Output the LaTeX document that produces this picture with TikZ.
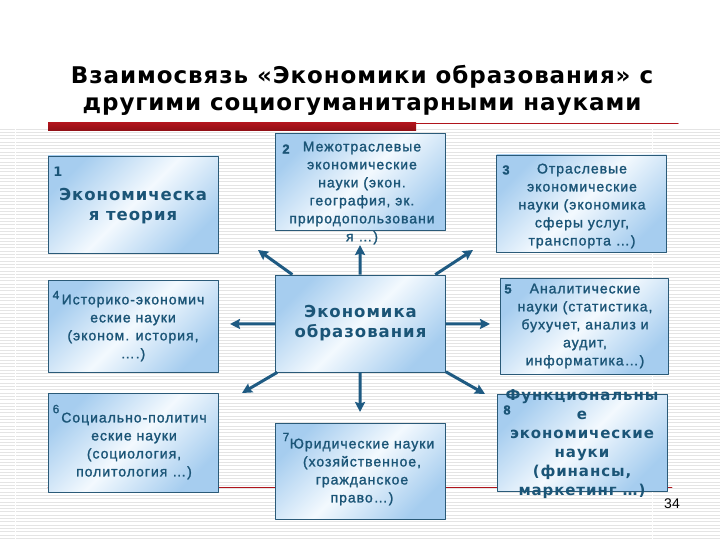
\documentclass[tikz,border=0pt]{standalone}
\usepackage{fontspec}
\setmainfont{Liberation Sans}
\newfontfamily\verdfont[LetterSpace=6]{DejaVu Sans}
\newfontfamily\titlefont[LetterSpace=4]{DejaVu Sans}
\newfontfamily\arialfont[LetterSpace=7,FakeBold=1.5]{Liberation Sans}
\usetikzlibrary{arrows.meta}
\definecolor{inktext}{HTML}{1B5577}
\definecolor{boxedge}{HTML}{2A5A78}
\definecolor{boxblue}{HTML}{A6CDEF}
\definecolor{boxlight}{HTML}{F3F9FE}
\definecolor{arrowblue}{HTML}{1E5A82}
\definecolor{stripegray}{HTML}{E4E4E4}
\definecolor{barred}{HTML}{B0141C}
\definecolor{bardark}{HTML}{8E0F15}
\tikzset{
    every picture/.style={line cap=round,line join=round},
    sciencebox/.style={draw=boxedge,line width=0.8pt,
      left color=boxblue,right color=boxblue,middle color=boxlight,shading angle=45,
      minimum width=170pt,minimum height=97pt,inner sep=0pt},
    boxtext/.style={text=inktext,font=\arialfont\fontsize{14}{18}\selectfont,
      align=center,inner sep=0pt},
    boldtext/.style={text=inktext,font=\verdfont\bfseries\fontsize{16.5}{20}\selectfont,
      align=center,inner sep=0pt},
    numlabel/.style={text=inktext,font=\arialfont\bfseries\fontsize{13}{13}\selectfont,
      inner sep=0pt},
    flowarrow/.style={-{Stealth[length=10pt,width=10pt,inset=1.5pt]},draw=arrowblue,
      line width=3pt,line cap=butt},
    stripe/.style={draw=stripegray,line width=0.8pt}
}
\begin{document}
\begin{tikzpicture}[x=1pt,y=-1pt]
    \useasboundingbox (0,0) rectangle (720,540);
    \fill[white] (0,0) rectangle (720,540);
    % background lines
    \foreach \y in {129,132.3,...,540}
        \draw[stripe] (0,\y) -- (720,\y);
    \draw[white,line width=1pt] (15,128) -- (15,540);
    \draw[white,line width=1pt] (652,128) -- (652,540);
    % title
    \node[font=\titlefont\bfseries\fontsize{23}{27}\selectfont,align=center] (title) at (362,90)
        {Взаимосвязь «Экономики образования» с\\другими социогуманитарными науками};
    \fill[top color=barred,bottom color=bardark] (48,123) rectangle (416,131);
    \draw[barred,line width=1pt] (416,123.5) -- (678,123.5);
    \draw[barred,line width=0.8pt] (48,487) -- (672,487);
    % boxes
    \node[sciencebox] (b1) at (133,204.5) {};
    \node[sciencebox] (b2) at (360,182) {};
    \node[sciencebox] (b3) at (581.5,203.5) {};
    \node[sciencebox,minimum height=92pt] (b4) at (133,326) {};
    \node[sciencebox,boldtext] (eco) at (360.5,323.5) {Экономика\\образования};
    \node[sciencebox,minimum width=168pt,minimum height=96pt] (b5) at (584,326) {};
    \node[sciencebox,minimum height=99pt] (b6) at (133,442.5) {};
    \node[sciencebox,minimum height=96pt] (b7) at (360,471) {};
    \node[sciencebox] (b8) at (582,442.5) {};
    % numbers
    \node[numlabel,font=\verdfont\bfseries\fontsize{13}{13}\selectfont] (n1) at (58,172) {1};
    \node[numlabel] (n2) at (286,149) {2};
    \node[numlabel] (n3) at (506,170) {3};
    \node[numlabel,font=\arialfont\fontsize{12}{12}\selectfont] (n4) at (56,295) {4};
    \node[numlabel] (n5) at (508,289) {5};
    \node[numlabel,font=\arialfont\fontsize{12}{12}\selectfont] (n6) at (56,409) {6};
    \node[numlabel,font=\arialfont\fontsize{12}{12}\selectfont] (n7) at (286,437) {7};
    \node[numlabel] (n8) at (507,410) {8};
    % texts
    \node[boldtext] (t1) at (133,206) {Экономическа\\я теория};
    \node[boxtext] (t2) at (362,193) {Межотраслевые\\экономические\\науки (экон.\\география, эк.\\природопользовани\\я …)};
    \node[boxtext] (t3) at (582,206) {Отраслевые\\экономические\\науки (экономика\\сферы услуг,\\транспорта …)};
    \node[boxtext] (t4) at (133,328) {Историко-экономич\\еские науки\\(эконом. история,\\….)};
    \node[boxtext] (t5) at (585,326) {Аналитические\\науки (статистика,\\бухучет, анализ и\\аудит,\\информатика…)};
    \node[boxtext] (t6) at (134,446) {Социально-политич\\еские науки\\(социология,\\политология …)};
    \node[boxtext] (t7) at (362,472) {Юридические науки\\(хозяйственное,\\гражданское\\право…)};
    \node[boldtext,font=\verdfont\bfseries\fontsize{15}{19}\selectfont] (t8) at (582,444)
        {Функциональны\\е\\экономические\\науки\\(финансы,\\маркетинг …)};
    \node[font=\fontsize{14}{14}\selectfont] (pnum) at (672,504) {34};
    % arrows
    \coordinate (tip1) at (258,250);
    \coordinate (tip2) at (360,245);
    \coordinate (tip3) at (473,250);
    \coordinate (tip4) at (230,324);
    \coordinate (tip5) at (490,324);
    \coordinate (tip6) at (242,393);
    \coordinate (tip7) at (360,412);
    \coordinate (tip8) at (485,394);
    \foreach \k in {1,...,8}
        \draw[flowarrow] (eco) -- (tip\k);
\end{tikzpicture}
\end{document}
